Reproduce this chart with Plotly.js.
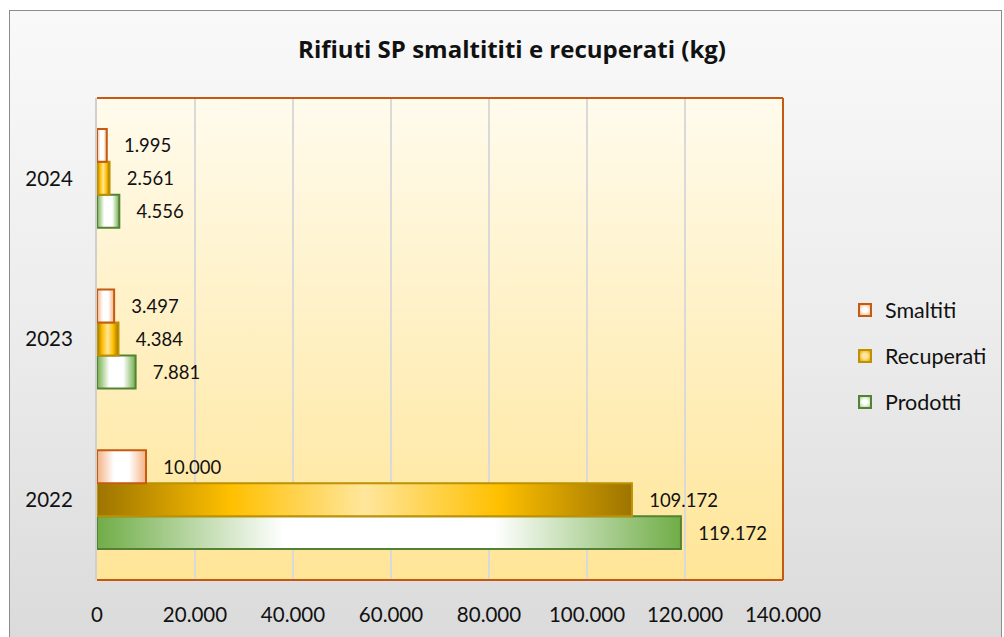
<!DOCTYPE html>
<html>
<head>
<meta charset="utf-8">
<script src="https://cdn.plot.ly/plotly-3.0.1.min.js"></script>
<style>
  html, body { margin: 0; padding: 0; background: #ffffff; width: 1004px; height: 637px; overflow: hidden; }
  #frame { position: absolute; left: 9px; top: 10px; width: 991px; height: 640px;
           border: 1px solid #8c8c8c; background: linear-gradient(to bottom, #f9f9f9 0%, #ececec 50%, #dadada 100%); }
  #chart { position: absolute; left: 0; top: 0; width: 1004px; height: 637px; }
</style>
</head>
<body>
<div id="frame"></div>
<div id="chart"></div>
<script>
// ---- data ----
const categories = ['2022', '2023', '2024'];
const smaltiti   = [10000, 3497, 1995];
const recuperati = [109172, 4384, 2561];
const prodotti   = [119172, 7881, 4556];
const xTickVals  = [0, 20000, 40000, 60000, 80000, 100000, 120000, 140000];
const chartTitle = 'Rifiuti SP smaltititi e recuperati (kg)';

const FONT = 'Lato, "Open Sans", sans-serif';
const TITLE_FONT = '"Open Sans", Lato, sans-serif';
const NBSP = '\u00a0\u00a0\u00a0';

function barTrace(name, values, fill, line, rank) {
  return {
    type: 'bar', orientation: 'h', name: name,
    y: categories, x: values,
    legendgroup: 'g' + rank,
    legendrank: rank,
    marker: { color: fill, line: { color: line, width: 2 } },
    text: values,
    texttemplate: NBSP + '%{x:,}',
    textposition: 'outside',
    constraintext: 'none',
    cliponaxis: false,
    textfont: { family: FONT, size: 18.5, color: '#111111' },
    hoverinfo: 'x+name'
  };
}

const data = [
  barTrace('Prodotti',   prodotti,   '#b5d99c', '#548235', 3),
  barTrace('Recuperati', recuperati, '#ffc000', '#bf9000', 2),
  barTrace('Smaltiti',   smaltiti,   '#f8cbad', '#c55a11', 1)
];

const layout = {
  width: 1004, height: 637,
  margin: { l: 97, r: 221, t: 98, b: 57, pad: 0, autoexpand: false },
  paper_bgcolor: 'rgba(0,0,0,0)',
  plot_bgcolor: '#fff0c4',
  separators: ',.',
  font: { family: FONT, color: '#111111' },
  title: {
    text: '<b>' + chartTitle + '</b>',
    font: { family: TITLE_FONT, size: 24, color: '#111111' },
    xref: 'container', x: 0.51, xanchor: 'center',
    yref: 'container', y: 1 - 50 / 637, yanchor: 'middle'
  },
  barmode: 'group',
  bargap: 0.385,
  bargroupgap: 0,
  xaxis: {
    range: [0, 140000],
    tickvals: xTickVals,
    tickformat: ',',
    showgrid: true, gridcolor: '#d9d9d9', gridwidth: 1.5,
    zeroline: false, showline: false,
    ticks: '', ticklabelstandoff: 20,
    tickfont: { family: FONT, size: 20.5, color: '#111111' },
    fixedrange: true
  },
  yaxis: {
    type: 'category',
    categoryorder: 'array', categoryarray: categories,
    showgrid: false, zeroline: false,
    showline: true, linecolor: '#d0cfcf', linewidth: 2,
    ticks: '', ticklabelstandoff: 18,
    tickfont: { family: FONT, size: 20.5, color: '#111111' },
    fixedrange: true
  },
  legend: {
    x: (845 - 97) / 686, xanchor: 'left',
    y: (580 - 356) / 482, yanchor: 'middle',
    traceorder: 'grouped',
    tracegroupgap: 15,
    font: { family: FONT, size: 21.5, color: '#111111' },
    bgcolor: 'rgba(0,0,0,0)'
  },
  shapes: [
    { type: 'line', xref: 'paper', yref: 'paper', x0: 0, x1: 1, y0: 1, y1: 1, line: { color: '#c65911', width: 2 }, layer: 'above' },
    { type: 'line', xref: 'paper', yref: 'paper', x0: 1, x1: 1, y0: 0, y1: 1, line: { color: '#c65911', width: 2 }, layer: 'above' },
    { type: 'line', xref: 'paper', yref: 'paper', x0: 0, x1: 1, y0: 0, y1: 0, line: { color: '#c65911', width: 2 }, layer: 'above' }
  ],
  showlegend: true
};

const gradients = {
  Prodotti:   [[0, '#70ad47'], [0.32, '#ffffff'], [0.68, '#ffffff'], [1, '#70ad47']],
  Recuperati: [[0, '#9c7400'], [0.25, '#ffc000'], [0.5, '#ffe69c'], [0.75, '#ffc000'], [1, '#9c7400']],
  Smaltiti:   [[0, '#f4b183'], [0.35, '#ffffff'], [0.65, '#ffffff'], [1, '#f4b183']]
};
const legendGrad = {
  Prodotti:   ['#ffffff', '#a9d18e'],
  Recuperati: ['#ffe69c', '#e0a800'],
  Smaltiti:   ['#ffffff', '#f4b183']
};

function applyStyles(gd) {
  const NS = 'http://www.w3.org/2000/svg';
  const svg = gd.querySelector('svg.main-svg');
  const defs = document.createElementNS(NS, 'defs');
  svg.insertBefore(defs, svg.firstChild);

  function linear(id, stops, vertical) {
    const g = document.createElementNS(NS, 'linearGradient');
    g.setAttribute('id', id);
    g.setAttribute('x1', '0'); g.setAttribute('y1', '0');
    g.setAttribute('x2', vertical ? '0' : '1'); g.setAttribute('y2', vertical ? '1' : '0');
    stops.forEach(s => {
      const st = document.createElementNS(NS, 'stop');
      st.setAttribute('offset', s[0]); st.setAttribute('stop-color', s[1]);
      g.appendChild(st);
    });
    defs.appendChild(g);
  }
  function radial(id, c0, c1) {
    const g = document.createElementNS(NS, 'radialGradient');
    g.setAttribute('id', id);
    g.setAttribute('r', '0.6');
    [[0, c0], [0.35, c0], [1, c1]].forEach(s => {
      const st = document.createElementNS(NS, 'stop');
      st.setAttribute('offset', s[0]); st.setAttribute('stop-color', s[1]);
      g.appendChild(st);
    });
    defs.appendChild(g);
  }

  linear('plotBgGrad', [[0, '#fffbed'], [1, '#ffe597']], true);
  const bg = gd.querySelector('.bglayer rect.bg');
  if (bg) bg.style.fill = 'url(#plotBgGrad)';

  data.forEach((t, i) => {
    linear('barGrad' + i, gradients[t.name], false);
    radial('legGrad' + i, legendGrad[t.name][0], legendGrad[t.name][1]);
  });

  const traces = gd.querySelectorAll('.barlayer .trace');
  traces.forEach((tg, i) => {
    tg.querySelectorAll('.point path').forEach(p => { p.style.fill = 'url(#barGrad' + i + ')'; });
  });

  gd.querySelectorAll('.legend .traces').forEach(lt => {
    const txt = lt.querySelector('.legendtext');
    if (!txt) return;
    const idx = data.findIndex(t => t.name === txt.textContent);
    if (idx < 0) return;
    lt.querySelectorAll('.legendpoints path').forEach(p => { p.style.fill = 'url(#legGrad' + idx + ')'; });
  });
}

Plotly.newPlot('chart', data, layout, { displayModeBar: false, staticPlot: true }).then(applyStyles);
</script>
</body>
</html>
